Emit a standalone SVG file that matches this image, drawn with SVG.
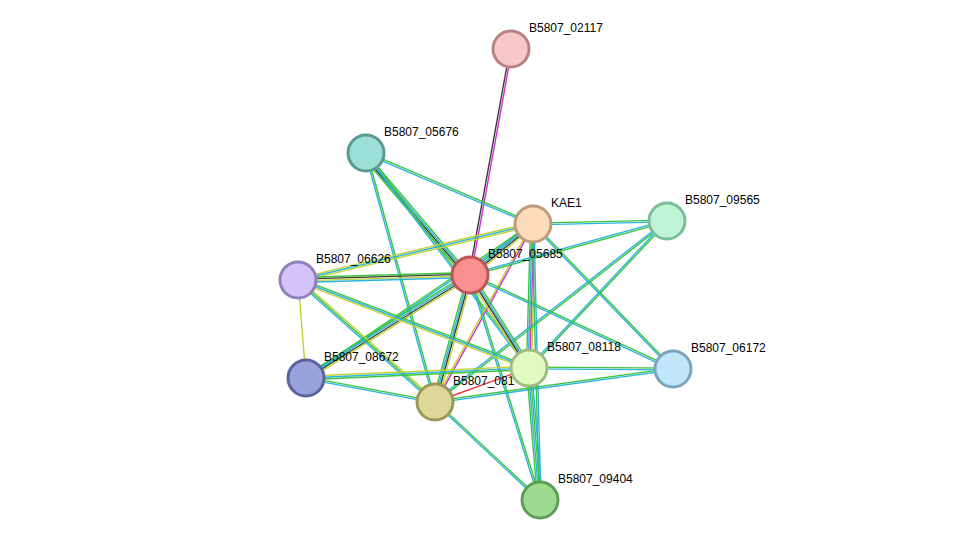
<svg xmlns="http://www.w3.org/2000/svg" width="975" height="546" viewBox="0 0 975 546">
<style>
line{stroke-width:1.4;fill:none}
.g{stroke:#3cc43c}.b{stroke:#2ab4e0}.k{stroke:#3a3a3a}.m{stroke:#d030d0}.y{stroke:#c2d232}.r{stroke:#e83030}
circle{stroke-width:3}
text{font-family:"Liberation Sans",Arial,sans-serif;font-size:12px;fill:#000}
</style>
<rect width="975" height="546" fill="#fff"/>
<g id="edges">
<g><line class="k" x1="510" y1="49" x2="469" y2="275"/><line class="m" x1="512" y1="49" x2="471" y2="275"/></g>
<g transform="translate(-1.3,1.1)"><line class="g" x1="366" y1="153" x2="470" y2="275" transform="translate(1.3,-1.1)"/><line class="b" x1="366" y1="153" x2="470" y2="275"/><line class="k" x1="366" y1="153" x2="470" y2="275" transform="translate(-1.3,1.1)"/><line class="g" x1="366" y1="153" x2="470" y2="275" transform="translate(-2.6,2.2)"/></g>
<g><line class="g" x1="366" y1="153" x2="533" y2="224" transform="translate(0.33,-0.78)"/><line class="b" x1="366" y1="153" x2="533" y2="224" transform="translate(-0.33,0.78)"/></g>
<g><line class="g" x1="366" y1="153" x2="529" y2="368" transform="translate(0.67,-0.5)"/><line class="b" x1="366" y1="153" x2="529" y2="368" transform="translate(-0.67,0.5)"/></g>
<g><line class="g" x1="366" y1="153" x2="435" y2="402" transform="translate(0.8,-0.22)"/><line class="b" x1="366" y1="153" x2="435" y2="402" transform="translate(-0.8,0.22)"/></g>
<g><line class="g" x1="533" y1="224" x2="470" y2="275" transform="translate(-1.6,-2)"/><line class="b" x1="533" y1="224" x2="470" y2="275" transform="translate(-0.53,-0.66)"/><line class="k" x1="533" y1="224" x2="470" y2="275" transform="translate(0.53,0.66)"/><line class="y" x1="533" y1="224" x2="470" y2="275" transform="translate(1.6,2)"/></g>
<g><line class="g" x1="533" y1="224" x2="667" y2="221" transform="translate(0,-0.85)"/><line class="b" x1="533" y1="224" x2="667" y2="221" transform="translate(0,0.85)"/></g>
<g><line class="y" x1="533" y1="224" x2="298" y2="280" transform="translate(-0.4,-1.65)"/><line class="b" x1="533" y1="224" x2="298" y2="280"/><line class="y" x1="533" y1="224" x2="298" y2="280" transform="translate(0.4,1.65)"/></g>
<g><line class="g" x1="533" y1="224" x2="529" y2="368" transform="translate(-2.5,0)"/><line class="b" x1="533" y1="224" x2="529" y2="368" transform="translate(-0.85,0)"/><line class="m" x1="533" y1="224" x2="529" y2="368" transform="translate(0.85,0)"/><line class="y" x1="533" y1="224" x2="529" y2="368" transform="translate(2.5,0)"/></g>
<g><line class="m" x1="533" y1="224" x2="435" y2="402" transform="translate(0.75,0.4)"/><line class="y" x1="533" y1="224" x2="435" y2="402" transform="translate(-0.75,-0.4)"/></g>
<g><line class="g" x1="533" y1="224" x2="673" y2="369" transform="translate(0.6,-0.6)"/><line class="b" x1="533" y1="224" x2="673" y2="369" transform="translate(-0.6,0.6)"/></g>
<g><line class="g" x1="533" y1="224" x2="306" y2="378" transform="translate(-0.48,-0.7)"/><line class="b" x1="533" y1="224" x2="306" y2="378" transform="translate(0.48,0.7)"/></g>
<g><line class="g" x1="533" y1="224" x2="540" y2="500" transform="translate(-0.85,0)"/><line class="b" x1="533" y1="224" x2="540" y2="500" transform="translate(0.85,0)"/></g>
<g><line class="g" x1="667" y1="221" x2="470" y2="275" transform="translate(0.23,0.82)"/><line class="b" x1="667" y1="221" x2="470" y2="275" transform="translate(-0.23,-0.82)"/></g>
<g><line class="g" x1="667" y1="221" x2="529" y2="368" transform="translate(0.62,0.58)"/><line class="b" x1="667" y1="221" x2="529" y2="368" transform="translate(-0.62,-0.58)"/></g>
<g><line class="g" x1="667" y1="221" x2="435" y2="402" transform="translate(0.53,0.67)"/><line class="b" x1="667" y1="221" x2="435" y2="402" transform="translate(-0.53,-0.67)"/></g>
<g><line class="g" x1="470" y1="275" x2="298" y2="280" transform="translate(0,-2.5)"/><line class="k" x1="470" y1="275" x2="298" y2="280" transform="translate(0,-0.85)"/><line class="y" x1="470" y1="275" x2="298" y2="280" transform="translate(0,0.85)"/><line class="b" x1="470" y1="275" x2="298" y2="280" transform="translate(0,2.5)"/></g>
<g><line class="g" x1="470" y1="275" x2="306" y2="378" transform="translate(-1.35,-2.16)"/><line class="b" x1="470" y1="275" x2="306" y2="378" transform="translate(-0.45,-0.72)"/><line class="k" x1="470" y1="275" x2="306" y2="378" transform="translate(0.45,0.72)"/><line class="y" x1="470" y1="275" x2="306" y2="378" transform="translate(1.35,2.16)"/></g>
<g><line class="g" x1="470" y1="275" x2="435" y2="402" transform="translate(-2.46,-0.68)"/><line class="b" x1="470" y1="275" x2="435" y2="402" transform="translate(-0.82,-0.22)"/><line class="k" x1="470" y1="275" x2="435" y2="402" transform="translate(0.82,0.22)"/><line class="y" x1="470" y1="275" x2="435" y2="402" transform="translate(2.46,0.68)"/></g>
<g><line class="g" x1="470" y1="275" x2="529" y2="368" transform="translate(2.2,-1.35)"/><line class="b" x1="470" y1="275" x2="529" y2="368" transform="translate(0.72,-0.45)"/><line class="k" x1="470" y1="275" x2="529" y2="368" transform="translate(-0.72,0.45)"/><line class="y" x1="470" y1="275" x2="529" y2="368" transform="translate(-2.2,1.35)"/></g>
<g><line class="g" x1="470" y1="275" x2="673" y2="369" transform="translate(0.35,-0.77)"/><line class="b" x1="470" y1="275" x2="673" y2="369" transform="translate(-0.35,0.77)"/></g>
<g><line class="g" x1="470" y1="275" x2="540" y2="500" transform="translate(0.8,-0.25)"/><line class="b" x1="470" y1="275" x2="540" y2="500" transform="translate(-0.8,0.25)"/></g>
<g><line class="y" x1="298" y1="280" x2="306" y2="378"/></g>
<g><line class="y" x1="298" y1="280" x2="435" y2="402" transform="translate(1.13,-1.27)"/><line class="g" x1="298" y1="280" x2="435" y2="402"/><line class="b" x1="298" y1="280" x2="435" y2="402" transform="translate(-1.13,1.27)"/></g>
<g><line class="g" x1="298" y1="280" x2="529" y2="368" transform="translate(0.6,-1.6)"/><line class="b" x1="298" y1="280" x2="529" y2="368"/><line class="y" x1="298" y1="280" x2="529" y2="368" transform="translate(-0.6,1.6)"/></g>
<g><line class="y" x1="306" y1="378" x2="529" y2="368" transform="translate(0,-1.7)"/><line class="b" x1="306" y1="378" x2="529" y2="368"/><line class="g" x1="306" y1="378" x2="529" y2="368" transform="translate(0,1.7)"/></g>
<g><line class="g" x1="306" y1="378" x2="435" y2="402" transform="translate(0,-0.85)"/><line class="b" x1="306" y1="378" x2="435" y2="402" transform="translate(0,0.85)"/></g>
<g><line class="r" x1="435" y1="402" x2="529" y2="368"/></g>
<g><line class="g" x1="435" y1="402" x2="673" y2="369" transform="translate(0,-0.85)"/><line class="b" x1="435" y1="402" x2="673" y2="369" transform="translate(0,0.85)"/></g>
<g><line class="g" x1="435" y1="402" x2="540" y2="500" transform="translate(0.6,-0.6)"/><line class="b" x1="435" y1="402" x2="540" y2="500" transform="translate(-0.6,0.6)"/></g>
<g><line class="g" x1="529" y1="368" x2="673" y2="369" transform="translate(0,-0.85)"/><line class="b" x1="529" y1="368" x2="673" y2="369" transform="translate(0,0.85)"/></g>
<g><line class="g" x1="529" y1="368" x2="540" y2="500" transform="translate(-2.5,0)"/><line class="b" x1="529" y1="368" x2="540" y2="500" transform="translate(-0.85,0)"/><line class="g" x1="529" y1="368" x2="540" y2="500" transform="translate(0.85,0)"/><line class="b" x1="529" y1="368" x2="540" y2="500" transform="translate(2.5,0)"/></g>
</g>
<g id="n02117"><circle cx="511" cy="49" r="18" fill="#f8c8c8" stroke="#b88282"/><text x="529" y="32">B5807_02117</text></g>
<g id="n05676"><circle cx="366" cy="153" r="18" fill="#9ae0d6" stroke="#5a9a92"/><text x="384" y="136">B5807_05676</text></g>
<g id="nKAE1"><circle cx="533" cy="224" r="18" fill="#fddcbc" stroke="#bc9c7c"/><text x="551" y="207">KAE1</text></g>
<g id="n09565"><circle cx="667" cy="221" r="18" fill="#bff5d6" stroke="#7cbc98"/><text x="685" y="204">B5807_09565</text></g>
<g id="n06626"><circle cx="298" cy="280" r="18" fill="#d4c2fa" stroke="#9080bc"/><text x="316" y="263">B5807_06626</text></g>
<g id="n05685"><circle cx="470" cy="275" r="18" fill="#f89090" stroke="#bc5656"/><text x="488" y="258">B5807_05685</text></g>
<g id="n08672"><circle cx="306" cy="378" r="18" fill="#9aa2dc" stroke="#5a62a0"/><text x="324" y="361">B5807_08672</text></g>
<g id="n081"><circle cx="435" cy="402" r="18" fill="#dcd898" stroke="#9c985a"/><text x="453" y="385">B5807_081</text></g>
<g id="n08118"><circle cx="529" cy="368" r="18" fill="#e0fac2" stroke="#a0bc84"/><text x="547" y="351">B5807_08118</text></g>
<g id="n06172"><circle cx="673" cy="369" r="18" fill="#c0e6fa" stroke="#7ca4bc"/><text x="691" y="352">B5807_06172</text></g>
<g id="n09404"><circle cx="540" cy="500" r="18" fill="#9cdc90" stroke="#5c9e52"/><text x="558" y="483">B5807_09404</text></g>
</svg>
